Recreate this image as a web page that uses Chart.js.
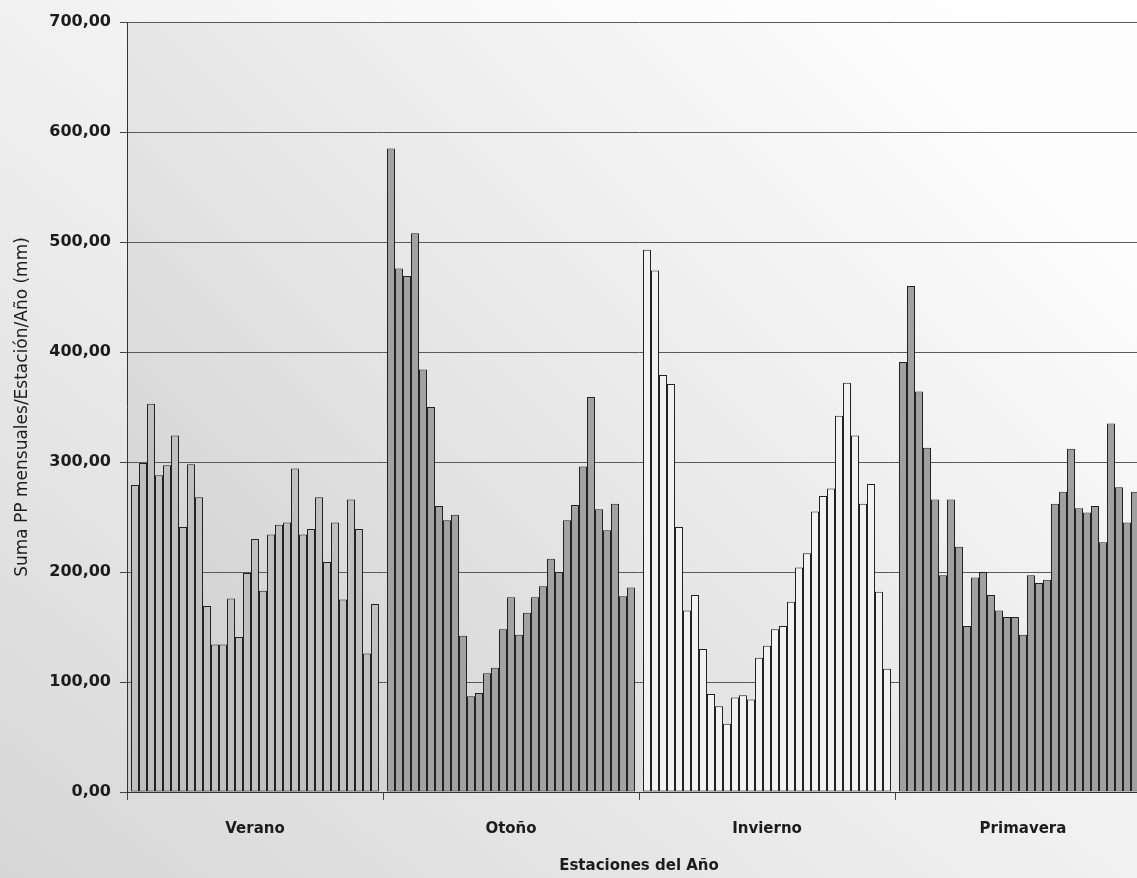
<!DOCTYPE html>
<html>
<head>
<meta charset="utf-8">
<title>Suma PP mensuales por estación</title>
<script src="https://cdn.jsdelivr.net/npm/chart.js@4.4.0/dist/chart.umd.min.js"></script>
<style>
  html, body {
    margin: 0;
    padding: 0;
    overflow: hidden;
  }
  body {
    width: 1137px;
    height: 878px;
    background: linear-gradient(to top right, #d6d6d6 0%, #ececec 40%, #fbfbfb 75%, #ffffff 100%);
  }
  #wrap {
    position: relative;
    width: 1153px;
    height: 878px;
  }
</style>
</head>
<body>
<div id="wrap"><canvas id="ppChart"></canvas></div>
<script>
  const estaciones = ["Verano", "Otoño", "Invierno", "Primavera"];

  // suma de PP mensuales por estación, un valor por año (mm)
  const verano = [
    279, 299, 353, 288, 297, 324, 241, 298, 268, 169,
    134, 134, 176, 141, 199, 230, 183, 234, 243, 245,
    294, 234, 239, 268, 209, 245, 175, 266, 239, 126, 171,
  ];
  const otono = [
    585, 476, 469, 508, 384, 350, 260, 247, 252, 142,
    87, 90, 108, 113, 148, 177, 143, 163, 177, 187,
    212, 200, 247, 261, 296, 359, 257, 238, 262, 178, 186,
  ];
  const invierno = [
    493, 474, 379, 371, 241, 165, 179, 130, 89, 78,
    62, 86, 88, 84, 122, 133, 148, 151, 173, 204,
    217, 255, 269, 276, 342, 372, 324, 262, 280, 182, 112,
  ];
  const primavera = [
    391, 460, 364, 313, 266, 197, 266, 223, 151, 195,
    200, 179, 165, 159, 159, 143, 197, 190, 193, 262,
    273, 312, 258, 254, 260, 227, 335, 277, 245, 273,
  ];

  const yMax = 700;
  const yStep = 100;

  // relleno de cada estación
  const seasonFill = ["#c0c0c0", "#a2a2a2", "#f2f2f2", "#a0a0a0"];

  const fontFamily = "'DejaVu Sans', sans-serif";
  const textColor = "#1c1c1c";

  // one dataset per year, each with its value for the four seasons
  const yearDatasets = verano.map(function (v, i) {
    return {
      label: "Año " + (i + 1),
      data: [verano[i], otono[i], invierno[i], primavera[i] ?? null],
      backgroundColor: seasonFill,
      borderColor: "#222",
      borderWidth: 1,
      borderSkipped: false,
      // 256px per category -> 8px bars on whole pixels
      categoryPercentage: 248 / 256,
      barPercentage: 1,
    };
  });

  // gradient behind the plot area
  const plotBackground = {
    id: "plotBackground",
    beforeDraw: function (chart) {
      const { ctx, chartArea } = chart;
      const { left, top, right, bottom } = chartArea;
      const grad = ctx.createLinearGradient(left, bottom, left + (right - left) * 0.75, top);
      grad.addColorStop(0, "#cbcbcb");
      grad.addColorStop(0.45, "#e4e4e4");
      grad.addColorStop(1, "#fdfdfd");
      ctx.save();
      ctx.fillStyle = grad;
      ctx.fillRect(left, top, right - left, bottom - top);
      ctx.restore();
    },
  };

  const ppChartConfig = {
    type: "bar",
    data: {
      labels: estaciones,
      datasets: yearDatasets,
    },
    options: {
      responsive: true,
      maintainAspectRatio: false,
      animation: false,
      layout: {
        padding: { top: 22, right: 2, left: 0, bottom: 0 },
      },
      plugins: {
        legend: { display: false },
        tooltip: { enabled: false },
      },
      scales: {
        x: {
          ticks: {
            padding: 20,
            color: textColor,
            font: { family: fontFamily, size: 15, weight: "bold" },
          },
          grid: {
            drawOnChartArea: false,
            drawTicks: true,
            tickLength: 8,
            tickColor: "#444",
            offset: true,
          },
          border: { color: "#333", width: 1 },
          title: {
            display: true,
            text: "Estaciones del Año",
            color: textColor,
            font: { family: fontFamily, size: 15, weight: "bold" },
            padding: { top: 0, bottom: 3 },
          },
          afterFit: function (scale) {
            scale.height = 86;
          },
        },
        y: {
          min: 0,
          max: yMax,
          ticks: {
            stepSize: yStep,
            padding: 9,
            color: textColor,
            font: { family: fontFamily, size: 16, weight: "bold" },
            callback: function (value) {
              return value.toFixed(2).replace(".", ",");
            },
          },
          grid: {
            color: "#5a5a5a",
            lineWidth: 1,
            tickLength: 7,
            tickColor: "#444",
          },
          border: { color: "#333", width: 1 },
          title: {
            display: true,
            text: "Suma PP mensuales/Estación/Año (mm)",
            color: textColor,
            font: { family: fontFamily, size: 17 },
            padding: { top: 12, bottom: 0 },
          },
          afterFit: function (scale) {
            scale.width = 127;
          },
        },
      },
    },
    plugins: [plotBackground],
  };

  const ppChart = new Chart(document.getElementById("ppChart"), ppChartConfig);
</script>
</body>
</html>
